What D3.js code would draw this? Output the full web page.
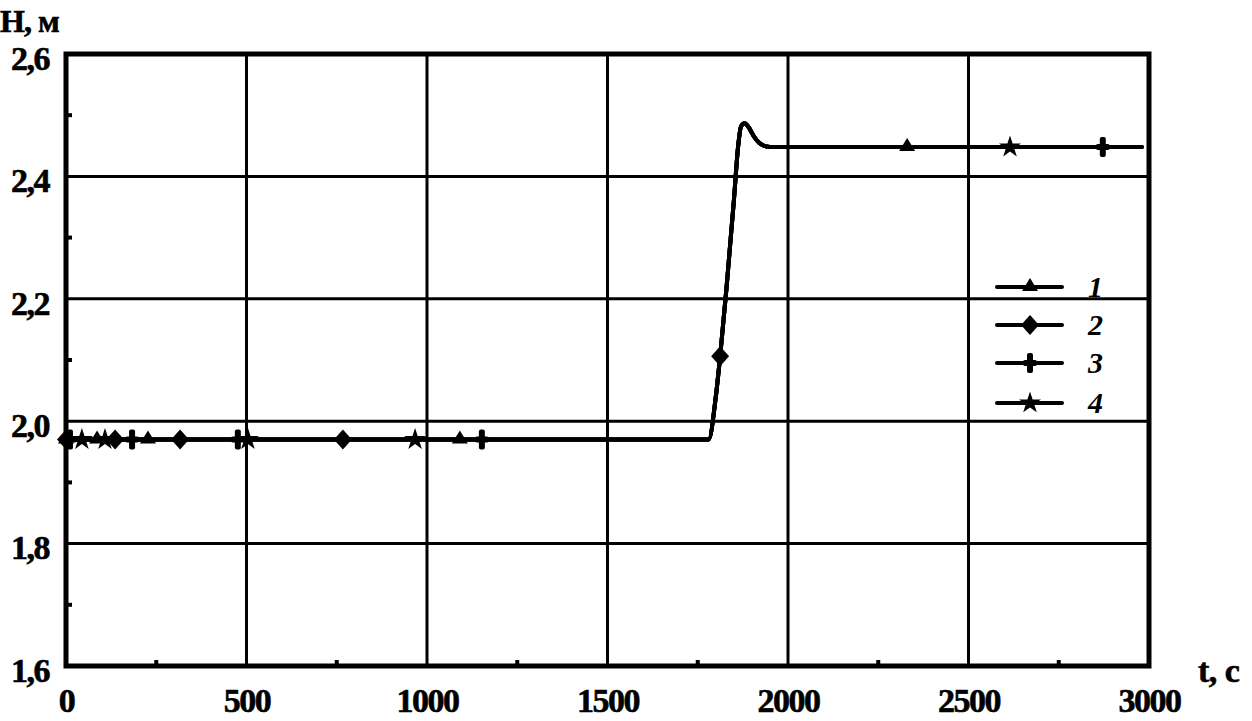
<!DOCTYPE html>
<html><head><meta charset="utf-8">
<script src="https://cdn.jsdelivr.net/npm/d3@7"></script>
<style>
html,body{margin:0;padding:0;background:#fff;}
svg{display:block;}
.lbl{font-family:"Liberation Serif","DejaVu Serif",serif;font-weight:bold;fill:#000;}
</style></head>
<body><svg id="c" width="1252" height="721"></svg>
<script>
// ---- data ----
const xTicks = [0, 500, 1000, 1500, 2000, 2500, 3000];
const yTicks = [1.6, 1.8, 2.0, 2.2, 2.4, 2.6];
const curveT = [0, 1780, 1800, 1812, 1830, 1850, 1862, 1870, 1880, 1890, 1905, 1920, 1940, 1960, 2980];
const curveH = [1.97, 1.97, 2.04, 2.106, 2.22, 2.36, 2.45, 2.482, 2.487, 2.481, 2.466, 2.455, 2.449, 2.448, 2.448];
const seriesNames = ["1", "2", "3", "4"];
const seriesSymbols = ["triangle", "diamond", "cross", "star"];
const markT1 = [0, 86, 227, 1091, 2330];
const markH1 = [1.97, 1.97, 1.97, 1.97, 2.448];
const markT2 = [0, 136, 316, 767, 1812];
const markH2 = [1.97, 1.97, 1.97, 1.97, 2.106];
const markT3 = [11, 183, 476, 1152, 2872];
const markH3 = [1.97, 1.97, 1.97, 1.97, 2.448];
const markT4 = [44, 108, 504, 967, 2615];
const markH4 = [1.97, 1.97, 1.97, 1.97, 2.448];

const svg = d3.select("#c");
const x = d3.scaleLinear([0, 3000], [66, 1149]);
const y = d3.scaleLinear([1.6, 2.6], [666, 54]);

// grid
svg.append("g").selectAll("line").data(xTicks.slice(1, -1)).join("line")
  .attr("x1", d => x(d)).attr("x2", d => x(d)).attr("y1", y(2.6)).attr("y2", y(1.6))
  .attr("stroke", "#000").attr("stroke-width", 3);
svg.append("g").selectAll("line").data(yTicks.slice(1, -1)).join("line")
  .attr("x1", x(0)).attr("x2", x(3000)).attr("y1", d => y(d)).attr("y2", d => y(d))
  .attr("stroke", "#000").attr("stroke-width", 3);
// minor ticks
const minorX = d3.range(250, 3000, 500), minorY = [1.7, 1.9, 2.1, 2.3, 2.5];
svg.append("g").selectAll("line").data(minorX).join("line")
  .attr("x1", d => x(d)).attr("x2", d => x(d)).attr("y1", y(1.6)).attr("y2", y(1.6) - 6)
  .attr("stroke", "#000").attr("stroke-width", 4);
svg.append("g").selectAll("line").data(minorY).join("line")
  .attr("x1", x(0)).attr("x2", x(0) + 6).attr("y1", d => y(d)).attr("y2", d => y(d))
  .attr("stroke", "#000").attr("stroke-width", 4);
// frame
svg.append("rect").attr("x", x(0)).attr("y", y(2.6)).attr("width", x(3000) - x(0)).attr("height", y(1.6) - y(2.6))
  .attr("fill", "none").attr("stroke", "#000").attr("stroke-width", 5);

// axes labels
const fmt = d => d3.format(".1f")(d).replace(".", ",");
const ax = svg.append("g").attr("transform", `translate(0,${y(1.6) + 22})`)
  .call(d3.axisBottom(x).tickValues(xTicks).tickSize(0).tickPadding(0).tickFormat(d3.format("d")));
ax.select(".domain").remove();
ax.selectAll("text").attr("class", "lbl").attr("font-size", 34).attr("dy", "0.71em").attr("letter-spacing", -1.5)
  .attr("stroke", "#000").attr("stroke-width", 0.6);
const ay = svg.append("g").attr("transform", `translate(${x(0) - 17},0)`)
  .call(d3.axisLeft(y).tickValues(yTicks).tickSize(0).tickPadding(0).tickFormat(fmt));
ay.select(".domain").remove();
ay.selectAll("text").attr("class", "lbl").attr("font-size", 34).attr("dy", "0.45em").attr("letter-spacing", -1.5)
  .attr("stroke", "#000").attr("stroke-width", 0.6);
svg.append("text").attr("class", "lbl").attr("x", 0).attr("y", 32).attr("font-size", 32).attr("letter-spacing", -1)
  .attr("stroke", "#000").attr("stroke-width", 0.6).text("H, м");
svg.append("text").attr("class", "lbl").attr("x", 1198).attr("y", 682).attr("font-size", 34).attr("letter-spacing", -0.5)
  .attr("stroke", "#000").attr("stroke-width", 0.6).text("t, с");

// curve (shared by all four series)
const curve = curveT.map((t, i) => [t, curveH[i]]);
const line = d3.line().x(d => x(d[0])).y(d => y(d[1])).curve(d3.curveMonotoneX);
seriesNames.forEach(() => {
  svg.append("path").datum(curve).attr("d", line).attr("fill", "none")
    .attr("stroke", "#000").attr("stroke-width", 4).attr("stroke-linejoin", "round").attr("stroke-linecap", "round");
});

// marker shapes
function drawMarker(g, kind, cx, cy) {
  if (kind === "triangle") {
    g.append("path").attr("d", `M${cx - 8},${cy + 4} L${cx + 8},${cy + 4} L${cx},${cy - 9} Z`).attr("fill", "#000");
  } else if (kind === "diamond") {
    g.append("path").attr("d", `M${cx},${cy - 10} L${cx + 9},${cy} L${cx},${cy + 10} L${cx - 9},${cy} Z`).attr("fill", "#000");
  } else if (kind === "cross") {
    g.append("rect").attr("x", cx - 3).attr("y", cy - 10).attr("width", 6).attr("height", 20).attr("rx", 2).attr("fill", "#000");
    g.append("rect").attr("x", cx - 7).attr("y", cy - 3).attr("width", 14).attr("height", 6).attr("rx", 2).attr("fill", "#000");
  } else {
    g.append("path").attr("d", d3.symbol(d3.symbolStar, 150)()).attr("transform", `translate(${cx},${cy})`).attr("fill", "#000");
  }
}
const markT = [markT1, markT2, markT3, markT4], markH = [markH1, markH2, markH3, markH4];
const mg = svg.append("g");
markT.forEach((ts, s) => ts.forEach((t, i) => drawMarker(mg, seriesSymbols[s], x(t), y(markH[s][i]))));

// legend
const legY = [287, 325, 363, 403];
const lg = svg.append("g");
seriesNames.forEach((n, i) => {
  lg.append("line").attr("x1", 997).attr("x2", 1062).attr("y1", legY[i]).attr("y2", legY[i])
    .attr("stroke", "#000").attr("stroke-width", 4).attr("stroke-linecap", "round");
  drawMarker(lg, seriesSymbols[i], 1030, legY[i]);
  lg.append("text").attr("class", "lbl").attr("x", 1088).attr("y", legY[i] + 10).attr("font-size", 30)
    .attr("font-style", "italic").text(n);
});
</script></body></html>
